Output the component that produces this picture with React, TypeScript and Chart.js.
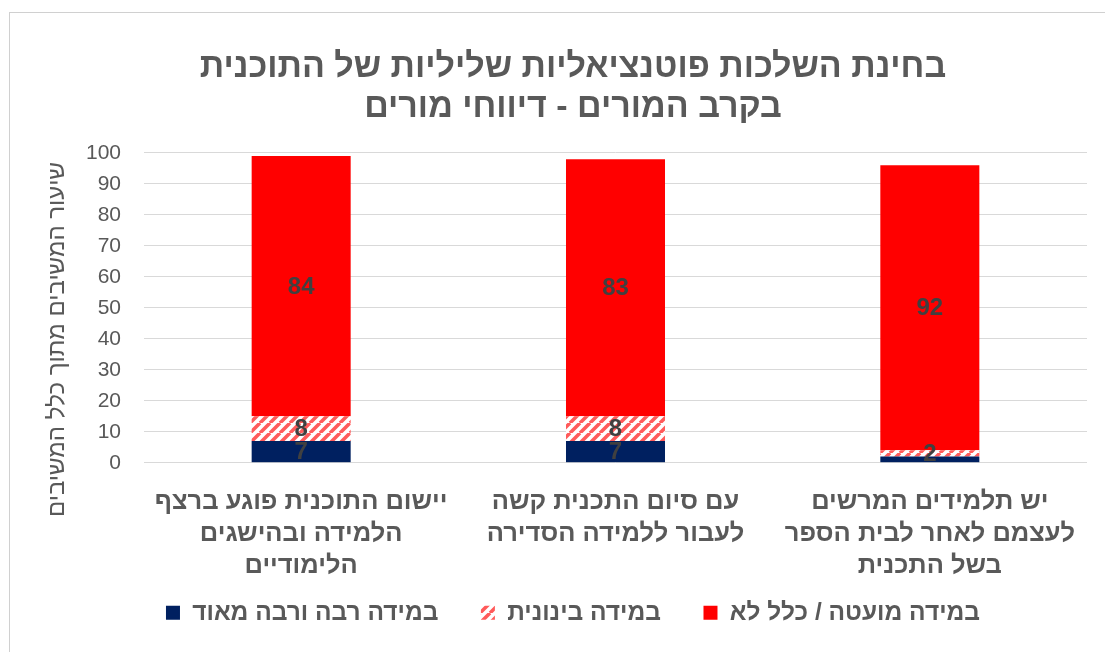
import React, { useEffect, useRef } from "react";
import { Chart, registerables } from "chart.js";

Chart.register(...registerables);

const FONT = "'Liberation Sans', Arial, 'DejaVu Sans', sans-serif";

const titleLines = [
  "בחינת השלכות פוטנציאליות שליליות של התוכנית",
  "בקרב המורים - דיווחי מורים",
];
const yAxisTitle = "שיעור המשיבים מתוך כלל המשיבים";

const categories = [
  ["יישום התוכנית פוגע ברצף", "הלמידה ובהישגים", "הלימודיים"],
  ["עם סיום התכנית קשה", "לעבור ללמידה הסדירה"],
  ["יש תלמידים המרשים", "לעצמם לאחר לבית הספר", "בשל התכנית"],
];

const seriesNames = ["במידה רבה ורבה מאוד", "במידה בינונית", "במידה מועטה / כלל לא"];
const highValues = [7, 7, 2];
const mediumValues = [8, 8, 2];
const lowValues = [84, 83, 92];

const yMin = 0;
const yMax = 100;
const yStep = 10;

const NAVY = "#002060";
const RED = "#ff0000";
const HATCH = "#ff5a5a";
const TEXT = "#595959";
const LABEL = "#404040";
const GRID = "#d9d9d9";

function makeHatch(): CanvasPattern | string {
  const size = 10;
  const c = document.createElement("canvas");
  c.width = size;
  c.height = size;
  const ctx = c.getContext("2d");
  if (!ctx) return HATCH;
  ctx.fillStyle = "#ffffff";
  ctx.fillRect(0, 0, size, size);
  ctx.strokeStyle = HATCH;
  ctx.lineWidth = 3.6;
  ctx.beginPath();
  for (const off of [-size, 0, size]) {
    ctx.moveTo(off, size);
    ctx.lineTo(off + size, 0);
  }
  ctx.stroke();
  return ctx.createPattern(c, "repeat") || HATCH;
}

// value labels in the middle of each segment; a label that would collide
// with one already drawn (top series first) is hidden
const valueLabels = {
  id: "valueLabels",
  afterDatasetsDraw(chart: any) {
    const ctx = chart.ctx;
    const glyphH = 17;
    ctx.save();
    ctx.font = `bold 24px ${FONT}`;
    ctx.fillStyle = LABEL;
    ctx.textAlign = "center";
    ctx.textBaseline = "middle";
    const placed: { x: number; y: number }[] = [];
    for (let i = chart.data.datasets.length - 1; i >= 0; i--) {
      const ds = chart.data.datasets[i];
      const meta = chart.getDatasetMeta(i);
      meta.data.forEach((el: any, j: number) => {
        const v = ds.data[j];
        const p = el.getProps(["x", "y", "base"], true);
        const y = (p.y + p.base) / 2 + 1;
        if (placed.some((q) => Math.abs(q.x - p.x) < 30 && Math.abs(q.y - y) < glyphH)) return;
        placed.push({ x: p.x, y });
        ctx.fillText(String(v), p.x, y);
      });
    }
    ctx.restore();
  },
};

// vertical axis title, starting just below the top of the plot
const yTitlePlugin = {
  id: "yTitle",
  afterDraw(chart: any) {
    const ctx = chart.ctx;
    const area = chart.chartArea;
    ctx.save();
    ctx.translate(47, area.top + 9);
    ctx.rotate(-Math.PI / 2);
    ctx.font = `24px ${FONT}`;
    ctx.fillStyle = TEXT;
    ctx.textAlign = "right";
    ctx.textBaseline = "middle";
    ctx.fillText(yAxisTitle, 0, 0);
    ctx.restore();
  },
};

export default function App() {
  const ref = useRef<HTMLCanvasElement | null>(null);

  useEffect(() => {
    if (!ref.current) return;
    Chart.defaults.font.family = FONT;
    const hatch = makeHatch();
    const chart = new Chart(ref.current, {
      type: "bar",
      data: {
        labels: categories,
        datasets: [
          { label: seriesNames[0], data: highValues, backgroundColor: NAVY, borderWidth: 0 },
          { label: seriesNames[1], data: mediumValues, backgroundColor: hatch as any, borderWidth: 0 },
          { label: seriesNames[2], data: lowValues, backgroundColor: RED, borderWidth: 0 },
        ],
      },
      options: {
        animation: false,
        responsive: false,
        datasets: { bar: { barPercentage: 1, categoryPercentage: 0.315 } },
        layout: { padding: { left: 28, right: 0, top: 0, bottom: 38 } },
        plugins: {
          title: {
            display: true,
            text: titleLines,
            color: TEXT,
            font: { family: FONT, size: 34, weight: "bold", lineHeight: 1.17 },
            padding: { top: 35.1, bottom: 25.3 },
          },
          legend: {
            position: "bottom",
            labels: {
              color: TEXT,
              font: { family: FONT, size: 24.5, weight: "bold" },
              boxWidth: 14,
              boxHeight: 14,
              padding: 18,
              generateLabels: (chart: any) => {
                const items = Chart.defaults.plugins.legend.labels.generateLabels(chart);
                return items.map((it: any, k: number) => ({
                  ...it,
                  text: k < items.length - 1 ? it.text + "\u2003" : it.text,
                }));
              },
            },
          },
          tooltip: { enabled: false },
        },
        scales: {
          x: {
            stacked: true,
            grid: { display: false, drawTicks: false },
            border: { display: false },
            ticks: {
              color: TEXT,
              font: { family: FONT, size: 25.5, weight: "bold", lineHeight: 1.255 },
              padding: 23,
              maxRotation: 0,
              autoSkip: false,
            },
            afterFit: (s: any) => {
              s.height = 119.75;
            },
          },
          y: {
            stacked: true,
            min: yMin,
            max: yMax,
            ticks: { stepSize: yStep, color: TEXT, font: { family: FONT, size: 21 }, padding: 23 },
            grid: { color: GRID, lineWidth: 1, drawTicks: false },
            border: { display: false },
            title: { display: false },
            afterFit: (s: any) => {
              s.width = 106;
            },
          },
          y2: {
            position: "right",
            display: true,
            grid: { display: false },
            border: { display: false },
            ticks: { display: false },
            afterFit: (s: any) => {
              s.width = 21;
            },
          },
        },
      },
      plugins: [valueLabels, yTitlePlugin],
    } as any);
    return () => chart.destroy();
  }, []);

  return (
    <div style={{ position: "fixed", inset: 0, overflow: "hidden", background: "#fff" }}>
      <div
        style={{
          position: "absolute",
          left: 9,
          top: 12,
          borderTop: "1px solid #d0d0d0",
          borderLeft: "1px solid #d0d0d0",
        }}
      >
        <canvas ref={ref} width={1098} height={660} style={{ display: "block" }} />
      </div>
    </div>
  );
}
